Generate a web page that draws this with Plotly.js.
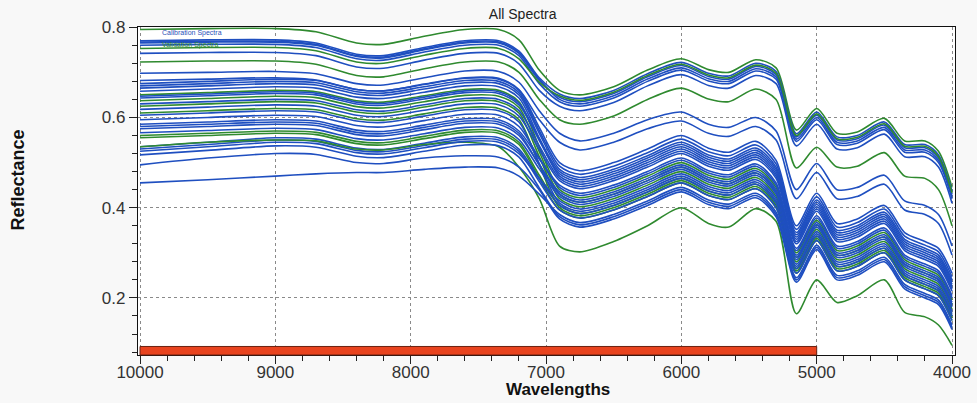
<!DOCTYPE html>
<html>
<head>
<meta charset="utf-8">
<script src="https://cdn.plot.ly/plotly-3.0.1.min.js"></script>
<style>html,body{margin:0;padding:0;background:#f8f8f8;}#chart{width:977px;height:403px;}</style>
</head>
<body>
<div id="chart"></div>
<script>
// Wavenumber grid (x values)
const wavenumbers = [10000, 9500, 9000, 8700, 8400, 8200, 7900, 7600, 7350, 7200, 7050, 6900, 6750, 6500, 6250, 6000, 5800, 5650, 5450, 5300, 5150, 5000, 4850, 4700, 4500, 4350, 4200, 4100, 4000];

// Spectrum set: 'C' = calibration (blue), 'V' = validation (green)
const spectrumSet = ['V','C','C','C','C','V','C','V','C','C','C','C','C','C','V','C','C','V','C','V','C','V','C','C','C','C','V','V','C','C','C','C','V','C','C','C','C'];

// Reflectance values, one array per spectrum
const spectra = [
 [.795,.797,.797,.790,.765,.762,.780,.795,.795,.772,.705,.660,.650,.668,.705,.730,.706,.700,.728,.710,.572,.620,.565,.568,.598,.548,.548,.525,.445],
 [.770,.772,.772,.765,.740,.737,.755,.770,.770,.747,.688,.652,.642,.660,.697,.722,.698,.692,.720,.702,.564,.612,.557,.560,.590,.540,.540,.517,.437],
 [.767,.769,.769,.762,.737,.734,.752,.767,.767,.744,.685,.640,.630,.648,.685,.710,.686,.680,.708,.690,.552,.600,.545,.548,.578,.528,.528,.505,.425],
 [.765,.767,.767,.760,.735,.732,.750,.765,.765,.742,.682,.645,.635,.653,.690,.715,.691,.685,.713,.695,.557,.605,.550,.553,.583,.533,.533,.510,.430],
 [.760,.762,.762,.755,.730,.727,.745,.760,.760,.737,.675,.635,.625,.643,.680,.705,.681,.675,.703,.685,.547,.595,.540,.543,.573,.523,.523,.500,.420],
 [.753,.755,.755,.748,.723,.720,.738,.753,.753,.730,.678,.648,.638,.656,.693,.718,.694,.688,.716,.698,.560,.608,.553,.556,.586,.536,.536,.513,.433],
 [.742,.744,.744,.737,.712,.709,.727,.742,.742,.719,.660,.625,.615,.633,.670,.695,.671,.665,.693,.675,.537,.585,.530,.533,.563,.513,.513,.490,.410],
 [.723,.725,.725,.718,.693,.690,.708,.723,.723,.700,.640,.595,.585,.603,.640,.665,.641,.635,.663,.640,.488,.534,.490,.492,.522,.470,.465,.440,.360],
 [.698,.700,.702,.697,.675,.672,.688,.703,.702,.678,.615,.565,.548,.565,.595,.612,.585,.578,.600,.570,.440,.498,.440,.445,.472,.415,.405,.385,.315],
 [.682,.685,.688,.683,.662,.659,.674,.688,.687,.662,.595,.545,.528,.545,.575,.592,.565,.558,.580,.550,.420,.478,.420,.425,.452,.395,.385,.365,.295],
 [.675,.680,.685,.682,.662,.659,.673,.687,.685,.660,.578,.500,.482,.500,.530,.560,.532,.523,.547,.505,.360,.432,.365,.375,.405,.345,.325,.310,.255],
 [.670,.675,.680,.677,.657,.654,.668,.682,.680,.655,.571,.492,.474,.492,.522,.552,.524,.515,.539,.497,.352,.424,.357,.367,.397,.337,.317,.302,.247],
 [.665,.670,.675,.672,.652,.649,.663,.677,.675,.650,.565,.485,.467,.485,.515,.545,.517,.508,.532,.490,.345,.417,.350,.360,.390,.330,.310,.295,.240],
 [.658,.663,.668,.665,.645,.642,.656,.670,.668,.643,.554,.470,.452,.470,.500,.530,.502,.493,.517,.475,.330,.402,.335,.345,.375,.315,.295,.280,.225],
 [.650,.655,.660,.657,.637,.634,.648,.662,.660,.635,.535,.440,.422,.440,.470,.500,.472,.463,.487,.445,.300,.372,.305,.315,.345,.285,.265,.250,.195],
 [.647,.652,.657,.654,.634,.631,.645,.659,.657,.632,.553,.480,.462,.480,.510,.540,.512,.503,.527,.485,.340,.412,.345,.355,.385,.325,.305,.290,.235],
 [.643,.648,.653,.650,.630,.627,.641,.655,.653,.628,.549,.475,.457,.475,.505,.535,.507,.498,.522,.480,.335,.407,.340,.350,.380,.320,.300,.285,.230],
 [.637,.642,.647,.644,.624,.621,.635,.649,.647,.622,.524,.430,.412,.430,.460,.490,.462,.453,.477,.435,.290,.362,.295,.305,.335,.275,.255,.240,.185],
 [.630,.635,.640,.637,.617,.614,.628,.642,.640,.615,.537,.465,.447,.465,.495,.525,.497,.488,.512,.470,.325,.397,.330,.340,.370,.310,.290,.275,.220],
 [.625,.630,.635,.632,.612,.609,.623,.637,.635,.610,.513,.420,.402,.420,.450,.480,.452,.443,.467,.425,.280,.352,.285,.295,.325,.265,.245,.230,.175],
 [.618,.623,.628,.625,.605,.602,.616,.630,.628,.603,.529,.460,.442,.460,.490,.520,.492,.483,.507,.465,.320,.392,.325,.335,.365,.305,.285,.270,.215],
 [.610,.615,.620,.617,.597,.594,.608,.622,.620,.595,.495,.400,.382,.400,.430,.460,.432,.423,.447,.405,.260,.332,.265,.275,.305,.245,.225,.210,.155],
 [.605,.610,.615,.612,.592,.589,.603,.617,.615,.590,.498,.410,.392,.410,.440,.470,.442,.433,.457,.415,.270,.342,.275,.285,.315,.255,.235,.220,.165],
 [.595,.600,.605,.602,.582,.579,.593,.607,.605,.580,.510,.445,.427,.445,.475,.505,.477,.468,.492,.450,.305,.377,.310,.320,.350,.290,.270,.255,.200],
 [.585,.590,.595,.592,.572,.569,.583,.597,.595,.570,.508,.450,.432,.450,.480,.510,.482,.473,.497,.455,.310,.382,.315,.325,.355,.295,.275,.260,.205],
 [.580,.585,.590,.587,.567,.564,.578,.592,.590,.565,.495,.430,.412,.430,.460,.490,.462,.453,.477,.435,.290,.362,.295,.305,.335,.275,.255,.240,.185],
 [.560,.565,.570,.567,.547,.544,.558,.572,.570,.545,.472,.405,.387,.405,.435,.465,.437,.428,.452,.410,.265,.337,.270,.280,.310,.250,.230,.215,.160],
 [.555,.560,.565,.562,.542,.539,.553,.567,.565,.540,.465,.395,.377,.395,.425,.455,.427,.418,.442,.400,.255,.327,.260,.270,.300,.240,.220,.205,.150],
 [.575,.580,.585,.582,.562,.559,.573,.587,.585,.560,.495,.435,.417,.435,.465,.495,.467,.458,.482,.440,.295,.367,.300,.310,.340,.280,.260,.245,.190],
 [.566,.571,.576,.573,.553,.550,.564,.578,.576,.551,.486,.425,.407,.425,.455,.485,.457,.448,.472,.430,.285,.357,.290,.300,.330,.270,.250,.235,.180],
 [.535,.545,.555,.552,.532,.529,.543,.557,.555,.530,.465,.405,.387,.405,.435,.465,.437,.428,.452,.410,.265,.337,.270,.280,.310,.250,.230,.215,.160],
 [.530,.540,.550,.547,.527,.524,.538,.552,.550,.525,.458,.395,.377,.395,.425,.455,.427,.418,.442,.400,.255,.327,.260,.270,.300,.240,.220,.205,.150],
 [.535,.545,.550,.548,.530,.528,.540,.545,.535,.490,.420,.315,.302,.325,.360,.400,.365,.357,.398,.370,.165,.240,.190,.205,.240,.168,.158,.140,.095],
 [.525,.535,.545,.542,.522,.519,.533,.547,.545,.520,.465,.415,.397,.415,.445,.475,.447,.438,.462,.420,.275,.347,.280,.290,.320,.260,.240,.225,.170],
 [.517,.527,.537,.534,.514,.511,.525,.539,.537,.512,.444,.380,.362,.380,.410,.440,.412,.403,.427,.385,.240,.312,.245,.255,.285,.225,.205,.190,.135],
 [.495,.510,.520,.518,.500,.498,.510,.515,.512,.490,.440,.375,.357,.375,.405,.435,.407,.398,.422,.380,.235,.307,.240,.250,.280,.220,.200,.185,.130],
 [.455,.462,.470,.475,.478,.478,.485,.490,.488,.470,.430,.385,.367,.385,.415,.445,.417,.408,.432,.390,.245,.317,.250,.260,.290,.230,.210,.195,.140]
];

// Calibration range marker (wavenumbers)
const rangeMarker = [10000, 5000];

const xTicks = [10000, 9000, 8000, 7000, 6000, 5000, 4000];
const yTicks = [0.2, 0.4, 0.6, 0.8];
const legendLabels = ['Calibration Spectra', 'Validation Spectra'];
const chartTitle = 'All Spectra';
const xTitle = 'Wavelengths';
const yTitle = 'Reflectance';

const setColor = {C: '#1f4fc0', V: '#2f8a2f'};

const traces = spectra.map((vals, i) => ({
  type: 'scatter',
  mode: 'lines',
  x: wavenumbers,
  y: vals,
  line: {color: setColor[spectrumSet[i]], width: 1.6, shape: 'spline', smoothing: 0.8},
  name: spectrumSet[i] === 'C' ? legendLabels[0] : legendLabels[1],
  showlegend: false,
  hoverinfo: 'skip'
}));

const fontFam = 'Arial, "Liberation Sans", sans-serif';
const axisFont = {family: fontFam, size: 17, color: '#333'};

const layout = {
  width: 977,
  height: 403,
  margin: {l: 138, r: 22, t: 27, b: 48},
  paper_bgcolor: '#f8f8f8',
  plot_bgcolor: '#ffffff',
  showlegend: false,
  title: {
    text: chartTitle,
    font: {family: fontFam, size: 14, color: '#222'},
    xref: 'container', x: 0.535, xanchor: 'center',
    yref: 'container', y: 0.965, yanchor: 'middle'
  },
  xaxis: {
    range: [10015, 3978],
    tickvals: xTicks,
    ticktext: xTicks.map(String),
    ticks: 'outside', ticklen: 8, tickcolor: '#222', tickwidth: 1,
    ticklabelstandoff: -7,
    minor: {dtick: 200, tick0: 4000, ticks: 'outside', ticklen: 5, tickcolor: '#222', showgrid: false},
    tickfont: axisFont,
    showline: true, linecolor: '#111', linewidth: 1.2, mirror: true,
    showgrid: true, gridcolor: '#8a8a8a', gridwidth: 1, griddash: '3px,3px',
    zeroline: false
  },
  yaxis: {
    range: [0.0735, 0.8005],
    tickvals: yTicks,
    ticktext: yTicks.map(v => v.toFixed(1)),
    ticks: 'outside', ticklen: 8, tickcolor: '#222', tickwidth: 1,
    minor: {dtick: 0.04, tick0: 0, ticks: 'outside', ticklen: 5, tickcolor: '#222', showgrid: false},
    tickfont: axisFont,
    showline: true, linecolor: '#111', linewidth: 1.2, mirror: true,
    showgrid: true, gridcolor: '#8a8a8a', gridwidth: 1, griddash: '3px,3px',
    zeroline: false
  },
  shapes: [{
    type: 'rect', xref: 'x', yref: 'paper',
    x0: rangeMarker[0], x1: rangeMarker[1], y0: 0, y1: 0.026,
    fillcolor: '#e8431e', line: {color: '#6a2010', width: 1}, layer: 'above'
  }],
  annotations: [
    {xref: 'paper', yref: 'paper', x: 0.514, y: -0.104, xanchor: 'center', yanchor: 'middle', showarrow: false,
     text: '<b>' + xTitle + '</b>', font: {family: fontFam, size: 17, color: '#111'}},
    {xref: 'paper', yref: 'paper', x: -0.147, y: 0.535, xanchor: 'center', yanchor: 'middle', showarrow: false, textangle: -90,
     text: '<b>' + yTitle + '</b>', font: {family: fontFam, size: 18, color: '#111'}},
    {xref: 'paper', yref: 'paper', x: 0.027, y: 0.982, xanchor: 'left', yanchor: 'middle', showarrow: false,
     text: legendLabels[0], font: {family: fontFam, size: 7, color: '#2a4fb8'}},
    {xref: 'paper', yref: 'paper', x: 0.027, y: 0.946, xanchor: 'left', yanchor: 'middle', showarrow: false,
     text: legendLabels[1], font: {family: fontFam, size: 7, color: '#2f8a2f'}}
  ]
};

Plotly.newPlot('chart', traces, layout, {displayModeBar: false, staticPlot: true});
</script>
</body>
</html>
